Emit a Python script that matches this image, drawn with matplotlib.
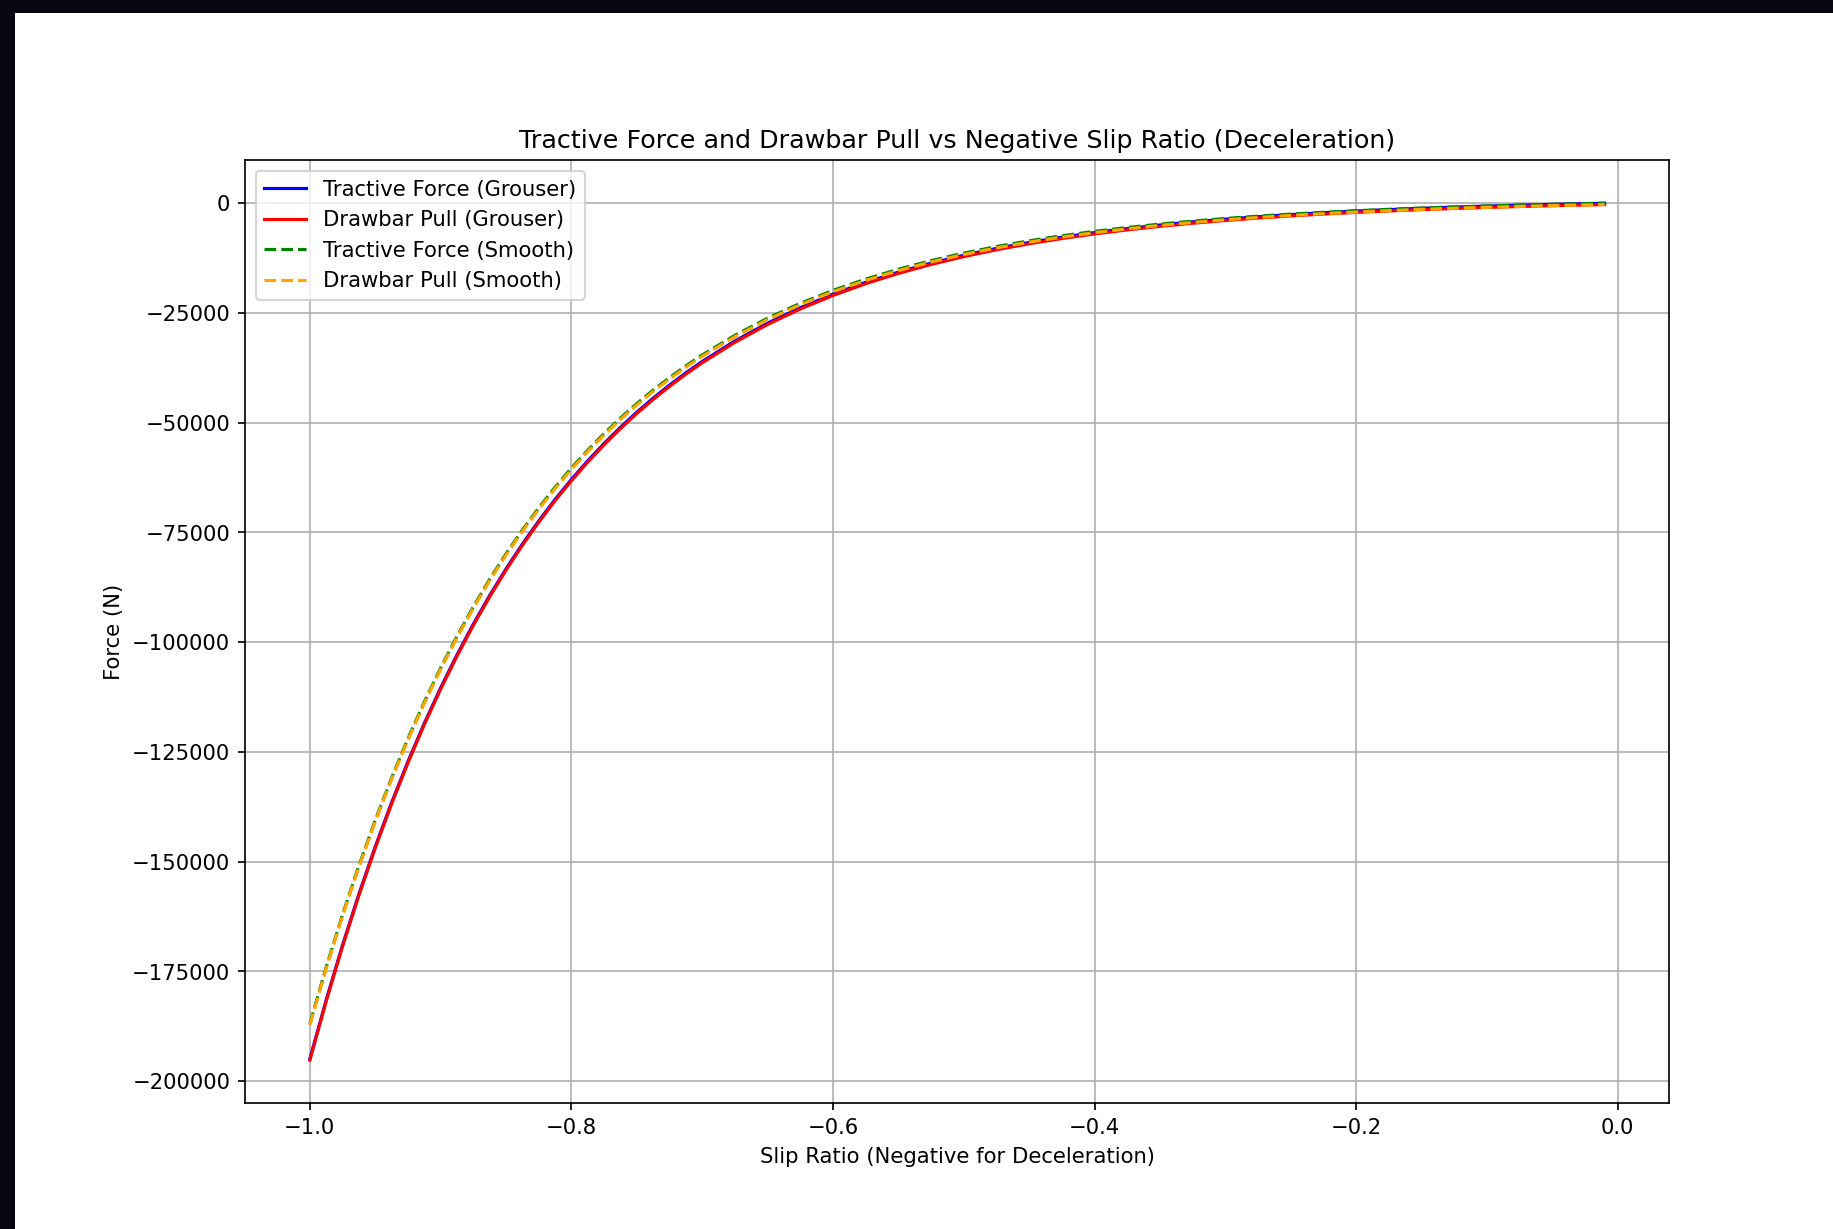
import matplotlib
matplotlib.use('Agg')

import matplotlib.pyplot as plt
from matplotlib.patches import Rectangle

# slip ratio (negative = braking), denser where the curves are steep
slip = [-1.0, -0.9875, -0.975, -0.9625, -0.95, -0.9375, -0.925, -0.9125, -0.9,
        -0.8875, -0.875, -0.8625, -0.85, -0.8375, -0.825, -0.8125, -0.8,
        -0.7875, -0.775, -0.7625, -0.75, -0.7375, -0.725, -0.7125, -0.7,
        -0.675, -0.65, -0.625, -0.6, -0.575, -0.55, -0.525,
        -0.5, -0.475, -0.45, -0.425, -0.4, -0.375, -0.35, -0.325, -0.3, -0.275,
        -0.25, -0.225, -0.2, -0.175, -0.15, -0.125, -0.1, -0.075, -0.05, -0.025,
        -0.01]

# forces in N
tractive_grouser = [-194947, -181524, -169025, -157416, -146614, -136567,
                    -127226, -118524, -110443, -102917, -95911, -89393, -83328,
                    -77683, -72425, -67519, -62966, -58716, -54768, -51089,
                    -47645, -44453, -41479, -38690, -36103,
                    -31433, -27367, -23839, -20761, -18078, -15738, -13695,
                    -11911, -10350, -8985, -7790, -6742, -5821, -5015, -4304,
                    -3679, -3129, -2644, -2216, -1837, -1502, -1205, -941, -707,
                    -499, -313, -148, -57]
drawbar_grouser = [-195247, -181824, -169325, -157716, -146914, -136867,
                   -127526, -118824, -110743, -103217, -96211, -89693, -83628,
                   -77983, -72725, -67819, -63266, -59016, -55068, -51389,
                   -47945, -44753, -41779, -38990, -36403,
                   -31733, -27667, -24139, -21061, -18378, -16038, -13995,
                   -12211, -10650, -9285, -8090, -7042, -6121, -5315, -4604,
                   -3979, -3429, -2944, -2516, -2137, -1802, -1505, -1241,
                   -1007, -799, -613, -448, -357]
tractive_smooth = [-186940, -174069, -162083, -150951, -140592, -130958,
                   -122001, -113656, -105907, -98690, -91972, -85721, -79906,
                   -74493, -69450, -64746, -60380, -56304, -52519, -48991,
                   -45688, -42627, -39776, -37101, -34620,
                   -30142, -26243, -22860, -19909, -17336, -15092, -13133,
                   -11422, -9925, -8616, -7470, -6465, -5582, -4809, -4127,
                   -3528, -3001, -2536, -2125, -1762, -1440, -1155, -903, -678,
                   -479, -300, -142, -55]
drawbar_smooth = [-187240, -174369, -162383, -151251, -140892, -131258,
                  -122301, -113956, -106207, -98990, -92272, -86021, -80206,
                  -74793, -69750, -65046, -60680, -56604, -52819, -49291,
                  -45988, -42927, -40076, -37401, -34920,
                  -30442, -26543, -23160, -20209, -17636, -15392, -13433,
                  -11722, -10225, -8916, -7770, -6765, -5882, -5109, -4427,
                  -3828, -3301, -2836, -2425, -2062, -1740, -1455, -1203,
                  -978, -779, -600, -442, -355]

DPI = 152
fig = plt.figure(figsize=(1833.4 / DPI, 1229.4 / DPI), dpi=DPI)
fig.subplots_adjust(left=0.1337, right=0.9105, bottom=0.1025, top=0.8692)
ax = fig.add_subplot(111)

ax.plot(slip, tractive_grouser, color='blue', label='Tractive Force (Grouser)')
ax.plot(slip, drawbar_grouser, color='red', label='Drawbar Pull (Grouser)')
ax.plot(slip, tractive_smooth, color='green', linestyle='--', label='Tractive Force (Smooth)')
ax.plot(slip, drawbar_smooth, color='orange', linestyle='--', label='Drawbar Pull (Smooth)')

ax.set_title('Tractive Force and Drawbar Pull vs Negative Slip Ratio (Deceleration)')
ax.set_xlabel('Slip Ratio (Negative for Deceleration)')
ax.set_ylabel('Force (N)')
ax.legend(loc='upper left')
ax.grid(True)

# dark frame along the top and left edges
fig.patches.append(Rectangle((0, 1 - 13 / 1229), 1, 13 / 1229, transform=fig.transFigure,
                             facecolor='#05060f', edgecolor='none', zorder=10))
fig.patches.append(Rectangle((0, 0), 15 / 1833, 1, transform=fig.transFigure,
                             facecolor='#05060f', edgecolor='none', zorder=10))

fig.savefig('out.png', dpi=DPI)
